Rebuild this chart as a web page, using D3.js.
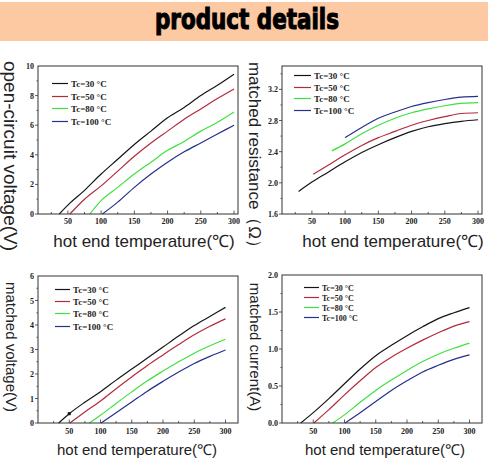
<!DOCTYPE html>
<html lang="en">
<head>
<meta charset="utf-8">
<title>product details</title>
<script src="https://cdn.jsdelivr.net/npm/d3@7"></script>
<style>
  body { margin: 0; background: #fff; }
  .tick-label { font-family: "Liberation Serif", serif; font-weight: bold; font-size: 8px; fill: #222; }
  .legend-text { font-family: "Liberation Serif", serif; font-weight: bold; fill: #222; }
  .axis-title { font-family: "Liberation Sans", Arial, sans-serif; fill: #222; }
</style>
</head>
<body>
<svg id="chart" width="488" height="463"></svg>
<script>
// series labels and colours
const seriesNames = ["Tc=30 °C", "Tc=50 °C", "Tc=80 °C", "Tc=100 °C"]
const seriesColors = ["#151515", "#b32a3c", "#3fe03f", "#25308c"]
const tempTicks = [50, 100, 150, 200, 250, 300]

// open-circuit voltage (V)
const ocv30 = [[37,0],[50,0.6],[75,1.6],[100,2.7],[125,3.7],[150,4.7],[175,5.6],[200,6.5],[225,7.2],[250,8.0],[275,8.7],[300,9.45]]
const ocv50 = [[53,0],[75,1.0],[100,1.9],[125,2.9],[150,3.9],[175,4.8],[200,5.6],[225,6.4],[250,7.1],[275,7.8],[300,8.45]]
const ocv80 = [[83,0],[100,0.9],[125,1.8],[150,2.7],[175,3.5],[200,4.3],[225,4.9],[250,5.6],[275,6.2],[300,6.9]]
const ocv100 = [[102,0],[125,0.8],[150,1.8],[175,2.7],[200,3.5],[225,4.2],[250,4.8],[275,5.4],[300,6.0]]
const ocvTicks = [0, 2, 4, 6, 8, 10]

// matched resistance (ohm)
const res30 = [[30,1.89],[50,2.01],[75,2.14],[100,2.27],[125,2.39],[150,2.49],[175,2.58],[200,2.66],[225,2.72],[250,2.76],[275,2.79],[300,2.81]]
const res50 = [[52,2.11],[75,2.23],[100,2.36],[125,2.48],[150,2.58],[175,2.66],[200,2.74],[225,2.80],[250,2.85],[275,2.89],[300,2.90]]
const res80 = [[80,2.41],[100,2.50],[125,2.63],[150,2.74],[175,2.83],[200,2.90],[225,2.95],[250,2.99],[275,3.02],[300,3.03]]
const res100 = [[100,2.58],[125,2.71],[150,2.83],[175,2.91],[200,2.98],[225,3.03],[250,3.07],[275,3.10],[300,3.11]]
const resTicks = [1.6, 2.0, 2.4, 2.8, 3.2]

// matched voltage (V)
const mv30 = [[33,0],[50,0.38],[75,0.85],[100,1.28],[125,1.75],[150,2.2],[175,2.65],[200,3.1],[225,3.55],[250,3.98],[275,4.35],[300,4.72]]
const mv50 = [[51,0],[75,0.45],[100,0.9],[125,1.4],[150,1.88],[175,2.35],[200,2.78],[225,3.2],[250,3.6],[275,3.95],[300,4.25]]
const mv80 = [[82,0],[100,0.32],[125,0.8],[150,1.27],[175,1.72],[200,2.12],[225,2.5],[250,2.85],[275,3.15],[300,3.42]]
const mv100 = [[101,0],[125,0.42],[150,0.86],[175,1.3],[200,1.7],[225,2.08],[250,2.43],[275,2.72],[300,2.98]]
const mvMarker = [50, 0.38]
const mvTicks = [0, 1, 2, 3, 4, 5, 6]

// matched current (A)
const mc30 = [[30,0],[50,0.14],[75,0.33],[100,0.53],[125,0.73],[150,0.91],[175,1.05],[200,1.18],[225,1.3],[250,1.41],[275,1.49],[300,1.56]]
const mc50 = [[51,0],[75,0.18],[100,0.38],[125,0.57],[150,0.75],[175,0.89],[200,1.01],[225,1.12],[250,1.22],[275,1.31],[300,1.37]]
const mc80 = [[81,0],[100,0.11],[125,0.28],[150,0.44],[175,0.58],[200,0.71],[225,0.83],[250,0.93],[275,1.01],[300,1.08]]
const mc100 = [[101,0],[125,0.14],[150,0.29],[175,0.44],[200,0.57],[225,0.69],[250,0.78],[275,0.86],[300,0.92]]
const mcTicks = [0, 0.5, 1.0, 1.5, 2.0]

let svg = d3.select("#chart")

// header band
svg.append("rect").attr("x", 0).attr("y", 2).attr("width", 488).attr("height", 39).attr("fill", "#fcc9a2")
svg.append("text")
   .attr("x", 247).attr("y", 29)
   .attr("text-anchor", "middle")
   .attr("textLength", 184).attr("lengthAdjust", "spacingAndGlyphs")
   .style("font-family", "'Liberation Sans Narrow', 'DejaVu Sans Condensed', sans-serif")
   .style("font-weight", "bold").style("font-size", "29px")
   .attr("fill", "#000").attr("stroke", "#000").attr("stroke-width", 1.1)
   .text("product details")

function drawPanel(p) {
  let g = svg.append("g")
  let x = d3.scaleLinear().domain(p.xDomain).range([p.left, p.right])
  let y = d3.scaleLinear().domain(p.yDomain).range([p.bottom, p.top])

  // minor ticks
  let xMinor = d3.range(25, 310, 25).filter(v => v > p.xDomain[0] && v < p.xDomain[1])
  g.selectAll(".xminor").data(xMinor).enter().append("line")
   .attr("x1", d => x(d)).attr("x2", d => x(d))
   .attr("y1", p.bottom).attr("y2", d => p.bottom - (d % 50 == 0 ? 3.5 : 2))
   .attr("stroke", "#333").attr("stroke-width", 0.8)

  let yStep = p.yTicks[1] - p.yTicks[0]
  let yMinor = []
  p.yTicks.forEach(t => { yMinor.push(t); yMinor.push(t + yStep / 2) })
  yMinor = yMinor.filter(v => v < p.yDomain[1])
  g.selectAll(".yminor").data(yMinor).enter().append("line")
   .attr("x1", p.left).attr("x2", (d, i) => p.left - (i % 2 == 0 ? 3 : 1.5))
   .attr("y1", d => y(d)).attr("y2", d => y(d))
   .attr("stroke", "#333").attr("stroke-width", 0.8)

  // tick labels
  g.selectAll(".xl").data(tempTicks).enter().append("text")
   .attr("class", "tick-label")
   .attr("x", d => x(d)).attr("y", p.bottom + p.xLabelOff)
   .attr("text-anchor", "middle").text(d => d)

  g.selectAll(".yl").data(p.yTicks).enter().append("text")
   .attr("class", "tick-label")
   .attr("x", p.left - 4).attr("y", d => y(d) + 3)
   .attr("text-anchor", "end").text(d => d3.format(p.yFormat)(d))

  // curves
  let line = d3.line().x(d => x(d[0])).y(d => y(d[1])).curve(d3.curveMonotoneX)
  g.selectAll(".curve").data(p.series).enter().append("path")
   .attr("d", d => line(d))
   .attr("fill", "none")
   .attr("stroke", (d, i) => seriesColors[i])
   .attr("stroke-width", 1.2)

  if (p.marker) {
    g.append("rect")
     .attr("x", x(p.marker[0]) - 1.5).attr("y", y(p.marker[1]) - 1.5)
     .attr("width", 3).attr("height", 3).attr("fill", "#111")
  }

  // frame
  g.append("rect")
   .attr("x", p.left).attr("y", p.top)
   .attr("width", p.right - p.left).attr("height", p.bottom - p.top)
   .attr("fill", "none").attr("stroke", "#333").attr("stroke-width", 1)

  // legend
  let leg = g.selectAll(".leg").data(seriesNames).enter().append("g")
             .attr("transform", (d, i) => "translate(" + p.legX + "," + Math.round(p.legY + i * p.legStep) + ")")
  leg.append("line").attr("x1", 0).attr("x2", p.legLen).attr("y1", 0.5).attr("y2", 0.5)
     .attr("stroke", (d, i) => seriesColors[i]).attr("stroke-width", 1.2)
  leg.append("text").attr("class", "legend-text")
     .attr("x", p.legLen + 3).attr("y", 3.5)
     .style("font-size", p.legFont + "px")
     .text(d => d)

  // axis titles
  g.append("text").attr("class", "axis-title")
   .attr("x", p.xTitleX).attr("y", p.xTitleY)
   .attr("text-anchor", "middle").style("font-size", p.xTitleSize + "px")
   .text("hot end temperature(℃)")

  g.append("text").attr("class", "axis-title")
   .attr("transform", "translate(" + p.yTitleX + "," + p.yTitleY + ") rotate(90)")
   .attr("text-anchor", "middle").style("font-size", p.yTitleSize + "px")
   .text(p.yTitle)
}

drawPanel({
  left: 38, right: 238, top: 66, bottom: 214,
  xDomain: [5, 306], yDomain: [0, 10], yTicks: ocvTicks, yFormat: "d",
  series: [ocv30, ocv50, ocv80, ocv100], xLabelOff: 10,
  legX: 52, legY: 83, legStep: 12.5, legLen: 16, legFont: 9,
  xTitleX: 144, xTitleY: 247, xTitleSize: 17,
  yTitleX: 4, yTitleY: 156, yTitleSize: 19, yTitle: "open-circuit voltage(V)"
})

drawPanel({
  left: 282, right: 482, top: 66, bottom: 214,
  xDomain: [5, 306], yDomain: [1.6, 3.5], yTicks: resTicks, yFormat: ".1f",
  series: [res30, res50, res80, res100], xLabelOff: 10,
  legX: 294, legY: 75, legStep: 11.7, legLen: 17, legFont: 9,
  xTitleX: 393, xTitleY: 247, xTitleSize: 17,
  yTitleX: 249, yTitleY: 159, yTitleSize: 17, yTitle: "matched resistance（Ω）"
})

drawPanel({
  left: 38, right: 238, top: 276, bottom: 423,
  xDomain: [0, 320], yDomain: [0, 6], yTicks: mvTicks, yFormat: "d",
  series: [mv30, mv50, mv80, mv100], marker: mvMarker, xLabelOff: 11,
  legX: 55, legY: 289, legStep: 12.2, legLen: 15, legFont: 9,
  xTitleX: 137, xTitleY: 455, xTitleSize: 15,
  yTitleX: 6, yTitleY: 347, yTitleSize: 15, yTitle: "matched voltage(V)"
})

drawPanel({
  left: 282, right: 482, top: 275, bottom: 423,
  xDomain: [0, 320], yDomain: [0, 2], yTicks: mcTicks, yFormat: ".1f",
  series: [mc30, mc50, mc80, mc100], xLabelOff: 11,
  legX: 304, legY: 287, legStep: 10, legLen: 15, legFont: 8,
  xTitleX: 385, xTitleY: 455, xTitleSize: 15,
  yTitleX: 250, yTitleY: 347, yTitleSize: 15, yTitle: "matched current(A)"
})
</script>
</body>
</html>
